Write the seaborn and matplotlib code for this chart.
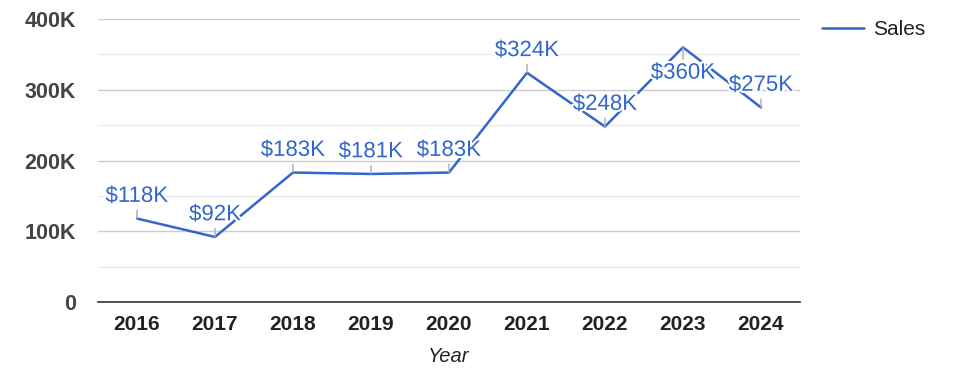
import pandas as pd
import seaborn as sns
import matplotlib.pyplot as plt
import matplotlib.patheffects as pe
from matplotlib.ticker import MultipleLocator, FuncFormatter

years = ['2016', '2017', '2018', '2019', '2020', '2021', '2022', '2023', '2024']
sales = [118, 92, 183, 181, 183, 324, 248, 360, 275]  # thousands of dollars
labels = ['$118K', '$92K', '$183K', '$181K', '$183K', '$324K', '$248K', '$360K', '$275K']
below = [False, False, False, False, False, False, False, True, False]  # label under the point

df = pd.DataFrame({'Year': years, 'Sales': sales})

sns.set_style('white')
plt.rcParams['font.family'] = ['Liberation Sans', 'DejaVu Sans']

blue = '#3366cc'
fig = plt.figure(figsize=(9.75, 3.78), dpi=100)
ax = fig.add_axes([0.1005, 0.201, 0.72, 0.7487])

sns.lineplot(data=df, x='Year', y='Sales', color=blue, lw=1.8, sort=False,
             ax=ax, label='Sales', legend=False)

ax.set_xlim(-0.5, len(years) - 0.5)
ax.set_ylim(0, 400)
ax.yaxis.set_major_locator(MultipleLocator(100))
ax.yaxis.set_minor_locator(MultipleLocator(50))
ax.yaxis.set_major_formatter(FuncFormatter(lambda v, p: '0' if v == 0 else f'{int(v)}K'))
ax.grid(axis='y', which='major', color='#cccccc', lw=1)
ax.grid(axis='y', which='minor', color='#ebebeb', lw=1)
ax.set_axisbelow(True)
for s in ['top', 'right', 'left']:
    ax.spines[s].set_visible(False)
ax.spines['bottom'].set_color('#333333')
ax.spines['bottom'].set_linewidth(1.2)
ax.tick_params(axis='both', which='both', length=0)
ax.tick_params(axis='y', pad=16, labelsize=15.5, labelcolor='#444444')
ax.tick_params(axis='x', pad=9, labelsize=15, labelcolor='#222222')
for t in ax.get_yticklabels() + ax.get_xticklabels():
    t.set_fontweight('bold')
ax.set_ylabel('')
ax.set_xlabel('Year', fontsize=14.5, style='italic', color='#222222', labelpad=10)

for i, (v, lab, b) in enumerate(zip(sales, labels, below)):
    ax.annotate(lab, xy=(i, v), xytext=(0, -11 if b else 12), textcoords='offset points',
                ha='center', va='top' if b else 'baseline', fontsize=16, color=blue,
                path_effects=[pe.withStroke(linewidth=3, foreground='white')],
                arrowprops=dict(arrowstyle='-', color='#aaaaaa', lw=1,
                                shrinkA=0, shrinkB=0))

h, l = ax.get_legend_handles_labels()
fig.legend(h, l, loc='center left', bbox_to_anchor=(0.843, 0.921), frameon=False,
           fontsize=15, handlelength=2.0, handletextpad=0.45, borderpad=0,
           borderaxespad=0, labelcolor='#222222')

fig.savefig('out.png', dpi=100)
